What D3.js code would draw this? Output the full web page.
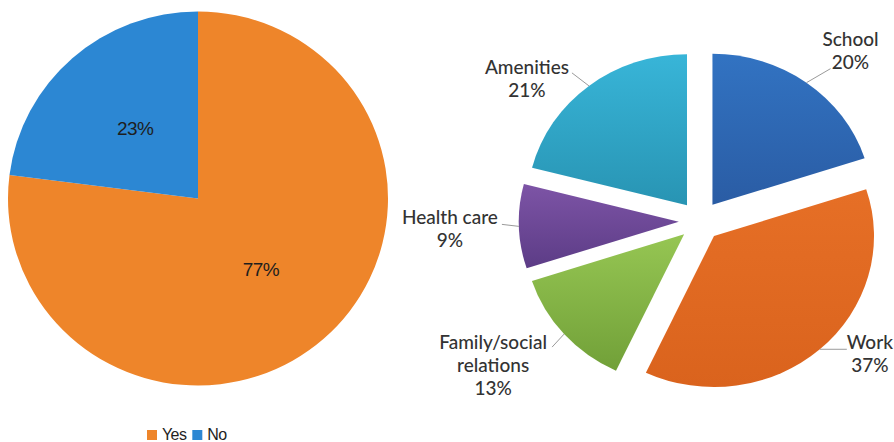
<!DOCTYPE html>
<html>
<head>
<meta charset="utf-8">
<script src="https://cdn.jsdelivr.net/npm/d3@7"></script>
<style>
  html, body { margin: 0; padding: 0; background: #fff; }
  svg { display: block; }
</style>
</head>
<body>
<svg id="chart" width="894" height="442"></svg>
<script>
// Share of respondents (left pie)
const answerLabels = ["Yes", "No"];
const answerValues = [77, 23];

// Reasons (right pie), clockwise from 12 o'clock
const reasonLabels = ["School", "Work", "Family/social relations", "Health care", "Amenities"];
const reasonValues = [20, 37, 13, 9, 21];

const answerColors = ["#EE852A", "#2C87D3"];
const reasonColors = [
  ["#3273C2", "#2A5CA4"],
  ["#E66F26", "#DA631D"],
  ["#96C653", "#71A038"],
  ["#7D54A6", "#5C3C86"],
  ["#38B5D8", "#2894B3"]
];

const svg = d3.select("#chart");
const defs = svg.append("defs");
const fontL = "'Liberation Sans', Arial, sans-serif";
const fontR = "Lato, 'Open Sans', sans-serif";

// ---------- left pie ----------
const L = { cx: 198, cy: 198.5, r: 187, sx: 190 / 187 };
const leftPie = d3.pie().sort(null).value(d => d.value)
  (answerLabels.map((k, i) => ({ key: k, value: answerValues[i], color: answerColors[i] })));
const leftArc = d3.arc().innerRadius(0).outerRadius(L.r);

const gl = svg.append("g").attr("transform", `translate(${L.cx},${L.cy})`);
gl.append("g").attr("transform", `scale(${L.sx},1)`)
  .selectAll("path").data(leftPie).join("path")
  .attr("d", leftArc)
  .attr("fill", d => d.data.color);

gl.selectAll("text.pct").data(leftPie).join("text")
  .attr("class", "pct")
  .attr("x", d => leftArc.centroid(d)[0] * L.sx)
  .attr("y", d => leftArc.centroid(d)[1] + 2)
  .attr("text-anchor", "middle")
  .attr("dominant-baseline", "middle")
  .attr("font-family", fontL)
  .attr("font-size", 19)
  .attr("letter-spacing", -0.6)
  .attr("fill", "#1e1e1e")
  .text(d => d.data.value + "%");

// legend
const legend = svg.append("g").attr("transform", "translate(147,0)")
  .attr("font-family", fontL)
  .attr("font-size", 16)
  .attr("letter-spacing", -0.6)
  .attr("fill", "#1e1e1e");
let lx = 0;
answerLabels.forEach((k, i) => {
  legend.append("rect").attr("x", lx).attr("y", 430).attr("width", 10).attr("height", 10)
    .attr("fill", answerColors[i]);
  const t = legend.append("text").attr("x", lx + 15).attr("y", 440).text(k);
  lx += 15 + t.node().getComputedTextLength() + 6;
});

// ---------- right pie ----------
const R = { cx: 700, cy: 221, r: 151, sx: 160 / 151, explode: 20 };
const rightPie = d3.pie().sort(null).value(d => d.value)
  (reasonLabels.map((k, i) => ({ key: k, value: reasonValues[i], colors: reasonColors[i] })));
const rightArc = d3.arc().innerRadius(0).outerRadius(R.r);

rightPie.forEach((d, i) => {
  const g = defs.append("linearGradient").attr("id", "grad" + i)
    .attr("x1", 0).attr("y1", 0).attr("x2", 0).attr("y2", 1);
  g.append("stop").attr("offset", "0%").attr("stop-color", d.data.colors[0]);
  g.append("stop").attr("offset", "100%").attr("stop-color", d.data.colors[1]);
});

const mid = d => (d.startAngle + d.endAngle) / 2;
const shift = d => [Math.sin(mid(d)) * R.explode, -Math.cos(mid(d)) * R.explode];

const gr = svg.append("g").attr("transform", `translate(${R.cx},${R.cy})`);
gr.append("g").attr("transform", `scale(${R.sx},1)`)
  .selectAll("path").data(rightPie).join("path")
  .attr("transform", d => `translate(${shift(d)[0]},${shift(d)[1]})`)
  .attr("d", rightArc)
  .attr("fill", (d, i) => `url(#grad${i})`);

// label placement: leader end relative to the slice's outer mid point,
// first text line relative to the leader end
const labelLayout = {
  "School": { lead: [24, -14], text: [20, -28], lines: ["School"] },
  "Work": { lead: [27, 0], text: [23, -5], lines: ["Work"] },
  "Family/social relations": { lead: [-12, 13], text: [-59, -3], lines: ["Family/social", "relations"] },
  "Health care": { lead: [-17, -2], text: [-52, -5], lines: ["Health care"] },
  "Amenities": { lead: [-17, -13], text: [-45, -4], lines: ["Amenities"] }
};

rightPie.forEach(d => {
  const a = mid(d);
  const s = shift(d);
  const px = (s[0] + Math.sin(a) * R.r) * R.sx;
  const py = s[1] - Math.cos(a) * R.r;
  const lay = labelLayout[d.data.key];
  const ex = px + lay.lead[0], ey = py + lay.lead[1];
  gr.append("line")
    .attr("x1", px).attr("y1", py).attr("x2", ex).attr("y2", ey)
    .attr("stroke", "#9a9a9a").attr("stroke-width", 1);
  const tx = ex + lay.text[0], ty = ey + lay.text[1];
  const lines = lay.lines.concat([d.data.value + "%"]);
  lines.forEach((ln, j) => {
    gr.append("text")
      .attr("x", tx)
      .attr("y", ty + j * 23)
      .attr("text-anchor", "middle")
      .attr("dominant-baseline", "middle")
      .attr("font-family", fontR)
      .attr("font-size", 19)
      .attr("font-weight", 500)
      .attr("fill", "#333")
      .text(ln);
  });
});
</script>
</body>
</html>
